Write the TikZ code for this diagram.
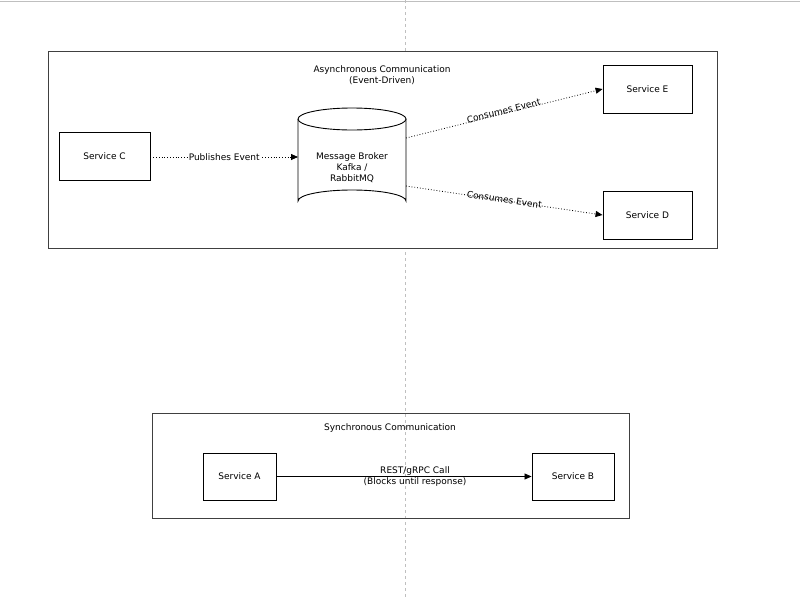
\documentclass[tikz,border=0pt]{standalone}
\usepackage{fontspec}
\setmainfont{DejaVu Sans}
\usetikzlibrary{arrows.meta}
\begin{document}
\begin{tikzpicture}[x=1pt,y=-1pt,
  box/.style={draw,line width=0.9pt,inner sep=0pt},
  frame/.style={draw=black!75,line width=0.7pt},
  lbl/.style={font=\fontsize{9}{11}\selectfont,inner sep=1pt},
  evt/.style={dotted,line width=0.8pt,-{Triangle[length=7pt,width=6pt]}},
  call/.style={line width=0.8pt,-{Triangle[length=7pt,width=6pt]}}]
\useasboundingbox (0,0) rectangle (800,597);
\draw[black!25] (0,1) -- (800,1);
\draw[black!25,dashed] (405,0) -- (405,597);
% async frame
\draw[frame,fill=white] (48,51) rectangle (717,248);
\node[lbl,align=center] (at) at (382,75) {Asynchronous Communication\\(Event-Driven)};
\node[box,minimum width=91pt,minimum height=48pt,lbl] (C) at (104.5,156) {Service C};
\node[box,minimum width=89pt,minimum height=48pt,lbl] (E) at (647.5,89) {Service E};
\node[box,minimum width=89pt,minimum height=48pt,lbl] (D) at (647.5,215) {Service D};
% cylinder
\draw[line width=0.9pt,fill=white] (298,119) -- (298,201) arc[start angle=180,end angle=360,x radius=54,y radius=11] -- (406,119);
\draw[line width=0.9pt,fill=white] (352,119) ellipse[x radius=54,y radius=11];
\node[lbl,align=center] (mb) at (352,168) {Message Broker\\Kafka /\\RabbitMQ};
\coordinate (mbl) at (298,157);
\coordinate (mbe) at (406,138);
\coordinate (mbd) at (406,186);
\draw[evt] (C.east |- mbl) -- node[lbl,fill=white,pos=0.5] {Publishes Event} (mbl);
\draw[evt] (mbe) -- node[lbl,above=-2pt,sloped,pos=0.5] {Consumes Event} (E.west);
\draw[evt] (mbd) -- node[lbl,above=-4pt,sloped,pos=0.5] {Consumes Event} (D.west);
% sync frame
\draw[frame] (152,413) rectangle (629,518);
\node[lbl] (st) at (390,428) {Synchronous Communication};
\node[box,minimum width=73pt,minimum height=47pt,lbl] (A) at (239.5,476.5) {Service A};
\node[box,minimum width=82pt,minimum height=47pt,lbl] (B) at (573,476.5) {Service B};
\draw[call] (A) -- (B);
\node[lbl,align=center] (cl) at (415,477) {REST/gRPC Call\\(Blocks until response)};
\end{tikzpicture}
\end{document}
